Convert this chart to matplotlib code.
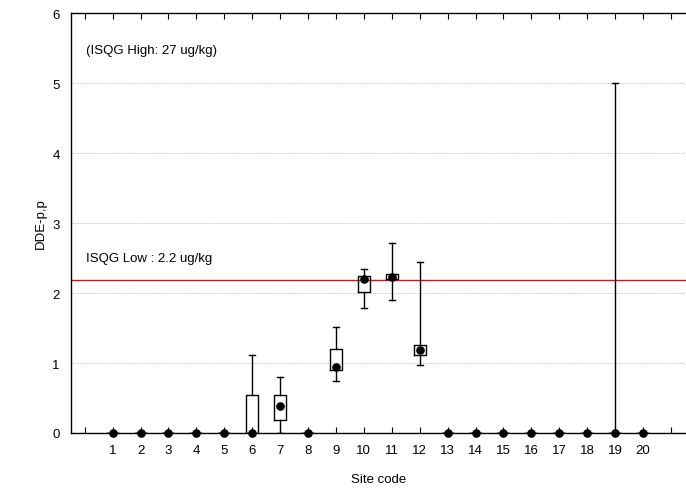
import matplotlib.pyplot as plt
import numpy as np

plt.rcParams['font.family'] = ['Liberation Sans', 'DejaVu Sans']

# site codes and summary stats (median, quartiles, min/max)
sites = list(range(1, 21))
medians = [0, 0, 0, 0, 0, 0, 0.39, 0, 0.94, 2.20, 2.23, 1.18, 0, 0, 0, 0, 0, 0, 0, 0]
q1 = [0, 0, 0, 0, 0, 0, 0.19, 0, 0.90, 2.01, 2.20, 1.12, 0, 0, 0, 0, 0, 0, 0, 0]
q3 = [0, 0, 0, 0, 0, 0.55, 0.55, 0, 1.20, 2.25, 2.27, 1.26, 0, 0, 0, 0, 0, 0, 0, 0]
mins = [0, 0, 0, 0, 0, 0, 0, 0, 0.75, 1.78, 1.90, 0.97, 0, 0, 0, 0, 0, 0, 0, 0]
maxs = [0, 0, 0, 0, 0, 1.11, 0.80, 0, 1.52, 2.34, 2.72, 2.45, 0, 0, 0, 0, 0, 0, 5.0, 0]
isqg_low = 2.18

fig = plt.figure(figsize=(6.86, 4.89), dpi=100)
ax = fig.add_axes([71 / 686, 0.1125, 1 - 71 / 686, 0.8585])

stats = []
for s, med, lo, hi, wlo, whi in zip(sites, medians, q1, q3, mins, maxs):
    stats.append(dict(med=med, q1=lo, q3=hi, whislo=wlo, whishi=whi, fliers=[], label=str(s)))

ax.bxp(stats, positions=sites, widths=0.43, showfliers=False,
       boxprops=dict(color='black', linewidth=1.0),
       whiskerprops=dict(color='black', linewidth=1.0),
       capprops=dict(color='black', linewidth=1.0),
       medianprops=dict(linestyle='none'),
       capwidths=0.22, manage_ticks=False, zorder=3)
ax.plot(sites, medians, 'o', color='black', markersize=5.2, zorder=4, clip_on=False)

ax.axhline(isqg_low, color='#e01010', linewidth=1.0, zorder=2)
ax.text(0.06, 2.5, 'ISQG Low : 2.2 ug/kg', fontsize=9.5, va='center')
ax.text(0.06, 5.47, '(ISQG High: 27 ug/kg)', fontsize=9.5, va='center')

ax.set_xlim(-0.49, 21.54)
ax.set_ylim(0, 6)
ax.set_xticks(range(0, 22))
ax.set_xticklabels([''] + [str(s) for s in sites] + [''])
ax.set_yticks(range(0, 7))
ax.tick_params(axis='x', direction='in', length=4, top=True, labelsize=9.5, pad=8)
ax.tick_params(axis='y', length=0, labelsize=9.5, pad=8)
ax.yaxis.grid(True, linestyle=(0, (1, 1)), color='#c4c4c4', linewidth=0.7)
ax.set_axisbelow(True)
ax.spines['right'].set_visible(False)
for sp in ['left', 'top', 'bottom']:
    ax.spines[sp].set_linewidth(1.0)

ax.set_xlabel('Site code', fontsize=9.5, labelpad=12)
ax.set_ylabel('DDE-p,p', fontsize=9.5, labelpad=4)

fig.savefig('out.png', dpi=100)
